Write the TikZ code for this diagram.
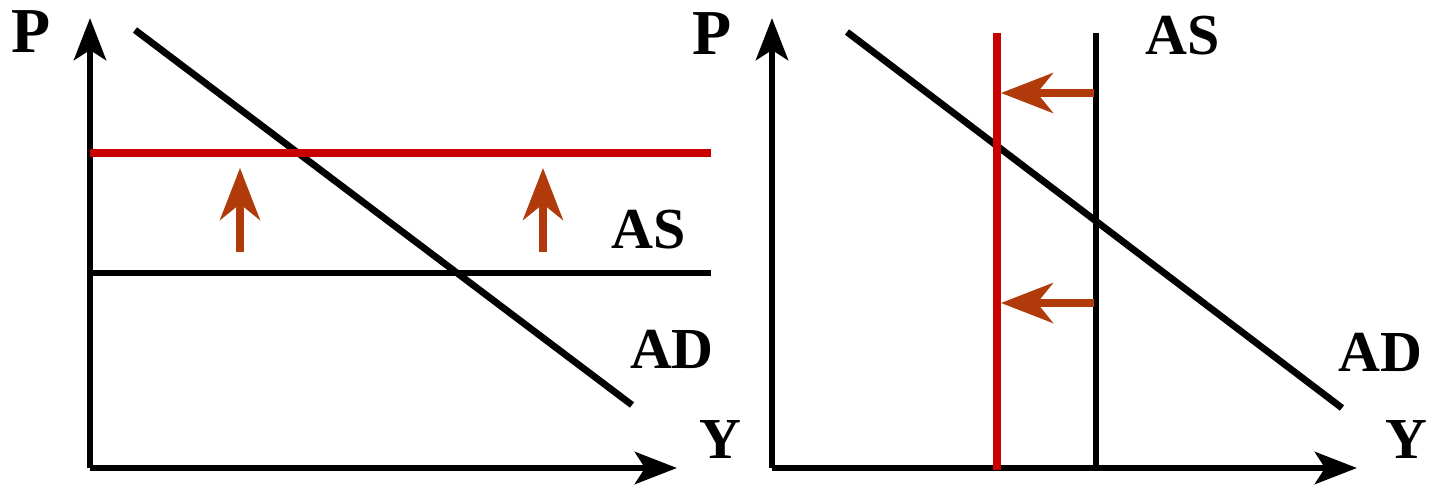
\documentclass[tikz,border=0pt]{standalone}
\usepackage{fontspec}
\setmainfont{Liberation Serif}
\usetikzlibrary{arrows.meta}
\definecolor{shiftred}{RGB}{200,0,0}
\definecolor{arrbrown}{RGB}{176,58,10}
\begin{document}
\begin{tikzpicture}[x=0.5pt,y=-0.5pt,
  axis/.style={line width=3.4pt,-{Stealth[length=21pt,width=16pt,inset=5pt]}},
  curve/.style={line width=3.4pt},
  redline/.style={line width=3.8pt,shiftred},
  shiftarr/.style={line width=3.6pt,arrbrown,-{Stealth[length=26pt,width=20pt,inset=8pt]}},
  lab/.style={font=\fontsize{29}{29}\selectfont\bfseries,inner sep=0pt}]
\useasboundingbox (0,0) rectangle (1431,485);
% left panel
\coordinate (lo) at (90,468);
\coordinate (ltop) at (90,18);
\coordinate (lright) at (677,468);
\draw[axis] (lo) -- (ltop);
\draw[axis] (lo) -- (lright);
\coordinate (ad1a) at (135,30);
\coordinate (ad1b) at (632,405);
\draw[curve] (ad1a) -- (ad1b);
\coordinate (r1a) at (90,153);
\coordinate (r1b) at (711,153);
\draw[redline] (r1a) -- (r1b);
\coordinate (as1a) at (90,273);
\coordinate (as1b) at (711,273);
\draw[curve] (as1a) -- (as1b);
\coordinate (u1a) at (240,252);
\coordinate (u1b) at (240,168);
\coordinate (u2a) at (543,252);
\coordinate (u2b) at (543,168);
\draw[shiftarr] (u1a) -- (u1b);
\draw[shiftarr] (u2a) -- (u2b);
\node[lab,font=\fontsize{32}{32}\selectfont\bfseries] (P1) at (31,32) {P};
\node[lab] (AS1) at (649,230) {AS};
\node[lab] (AD1) at (672,349) {AD};
\node[lab] (Y1) at (720,440) {Y};
% right panel
\coordinate (ro) at (772,468);
\coordinate (rtop) at (772,18);
\coordinate (rright) at (1357,468);
\draw[axis] (ro) -- (rtop);
\draw[axis] (ro) -- (rright);
\coordinate (ad2a) at (847,32);
\coordinate (ad2b) at (1342,408);
\draw[curve] (ad2a) -- (ad2b);
\coordinate (rv1a) at (997,33);
\coordinate (rv1b) at (997,470);
\draw[redline] (rv1a) -- (rv1b);
\coordinate (bv1a) at (1096,33);
\coordinate (bv1b) at (1096,470);
\draw[curve] (bv1a) -- (bv1b);
\coordinate (l1a) at (1094,93);
\coordinate (l1b) at (1001,93);
\coordinate (l2a) at (1094,303);
\coordinate (l2b) at (1001,303);
\draw[shiftarr] (l1a) -- (l1b);
\draw[shiftarr] (l2a) -- (l2b);
\node[lab,font=\fontsize{32}{32}\selectfont\bfseries] (P2) at (712,34) {P};
\node[lab] (AS2) at (1183,36) {AS};
\node[lab] (AD2) at (1380,352) {AD};
\node[lab] (Y2) at (1406,440) {Y};
\end{tikzpicture}
\end{document}
